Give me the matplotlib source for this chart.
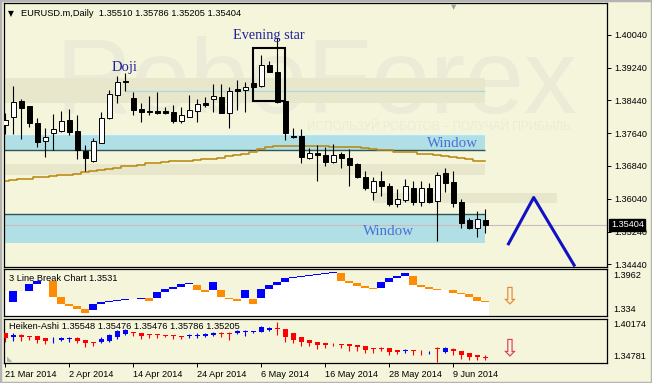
import matplotlib
matplotlib.use('Agg')
import matplotlib.pyplot as plt
from matplotlib.patches import Rectangle
from matplotlib.transforms import blended_transform_factory

plt.rcParams['font.family'] = ['Liberation Sans', 'DejaVu Sans']

# EURUSD.m Daily, 21 Mar 2014 - 13 Jun 2014
opens = [1.3784, 1.3803, 1.3842, 1.3830, 1.3789, 1.3744, 1.3764, 1.3769, 1.3796, 1.3769,
         1.3721, 1.3697, 1.3741, 1.3800, 1.3857, 1.3890, 1.3849, 1.3823, 1.3818, 1.3818,
         1.3819, 1.3815, 1.3794, 1.3804, 1.3819, 1.3838, 1.3848, 1.3851, 1.3814, 1.3872,
         1.3870, 1.3885, 1.3879, 1.3930, 1.3914, 1.3842, 1.3758, 1.3758, 1.3704, 1.3715,
         1.3711, 1.3693, 1.3712, 1.3703, 1.3689, 1.3658, 1.3621, 1.3647, 1.3636, 1.3591,
         1.3601, 1.3629, 1.3597, 1.3629, 1.3599, 1.3666, 1.3645, 1.3597, 1.3552, 1.3532,
         1.35510]
highs = [1.3813, 1.3879, 1.3848, 1.3831, 1.3801, 1.3776, 1.3811, 1.3818, 1.3823, 1.3808,
         1.3735, 1.3751, 1.3816, 1.3869, 1.3903, 1.3911, 1.3865, 1.3838, 1.3854, 1.3864,
         1.3828, 1.3833, 1.3827, 1.3857, 1.3846, 1.3851, 1.3884, 1.3884, 1.3877, 1.3894,
         1.3889, 1.3894, 1.3954, 1.3941, 1.3996, 1.3844, 1.3776, 1.3775, 1.3728, 1.3735,
         1.3729, 1.3737, 1.3719, 1.3725, 1.3690, 1.3672, 1.3656, 1.3672, 1.3642, 1.3628,
         1.3652, 1.3648, 1.3648, 1.3642, 1.3670, 1.3678, 1.3672, 1.3603, 1.3556, 1.3575,
         1.35786]
lows = [1.3762, 1.3762, 1.3750, 1.3779, 1.3730, 1.3706, 1.3723, 1.3767, 1.3759, 1.3701,
        1.3672, 1.3694, 1.3739, 1.3798, 1.3838, 1.3867, 1.3808, 1.3792, 1.3808, 1.3811,
        1.3811, 1.3789, 1.3788, 1.3803, 1.3792, 1.3828, 1.3816, 1.3812, 1.3776, 1.3820,
        1.3815, 1.3874, 1.3876, 1.3913, 1.3837, 1.3747, 1.3751, 1.3690, 1.3700, 1.3648,
        1.3684, 1.3690, 1.3678, 1.3636, 1.3654, 1.3625, 1.3601, 1.3611, 1.3586, 1.3584,
        1.3597, 1.3589, 1.3586, 1.3593, 1.3502, 1.3621, 1.3583, 1.3532, 1.3530, 1.3511,
        1.35205]
closes = [1.3796, 1.3840, 1.3825, 1.3789, 1.3742, 1.3754, 1.3773, 1.3794, 1.3767, 1.3723,
          1.3704, 1.3745, 1.3800, 1.3859, 1.3889, 1.3889, 1.3820, 1.3815, 1.3815, 1.3813,
          1.3813, 1.3794, 1.3807, 1.3820, 1.3834, 1.3833, 1.3854, 1.3814, 1.3867, 1.3867,
          1.3876, 1.3877, 1.3930, 1.3914, 1.3841, 1.3764, 1.3754, 1.3705, 1.3715, 1.3711,
          1.3694, 1.3711, 1.3703, 1.3686, 1.3656, 1.3631, 1.3647, 1.3636, 1.3590, 1.3603,
          1.3635, 1.3597, 1.3629, 1.3597, 1.3662, 1.3643, 1.3594, 1.3545, 1.3532, 1.3554,
          1.35404]
ma = [1.3647, 1.3650, 1.3652, 1.3653, 1.3656, 1.3657, 1.3659, 1.3661, 1.3663, 1.3665,
      1.3668, 1.3672, 1.3674, 1.3676, 1.3680, 1.3683, 1.3685, 1.3687, 1.3690, 1.3692,
      1.3694, 1.3695, 1.3696, 1.3696, 1.3698, 1.3700, 1.3702, 1.3704, 1.3708, 1.3711,
      1.3714, 1.3719, 1.3725, 1.3730, 1.3733, 1.3733, 1.3733, 1.3733, 1.3733, 1.3733,
      1.3733, 1.3731, 1.3731, 1.3730, 1.3729, 1.3728, 1.3726, 1.3724, 1.3722, 1.3719,
      1.3718, 1.3717, 1.3714, 1.3713, 1.3711, 1.3708, 1.3706, 1.3703, 1.3701, 1.3697,
      1.3695]

# 3 Line Break (obere / untere Kante je Balken, u = blau, d = orange)
lb_top = [1.3675, 1.3675, 1.3675, 1.3765, 1.3810, 1.3810, 1.3805, 1.3586, 1.3492, 1.3470,
          1.3425, 1.3501, 1.3519, 1.3537, 1.3551, 1.3560, 1.3569, 1.3582, 1.3582, 1.3662,
          1.3702, 1.3729, 1.3761, 1.3778, 1.3752, 1.3685, 1.3787, 1.3685, 1.3573, 1.3560,
          1.3685, 1.3560, 1.3694, 1.3752, 1.3792, 1.3841, 1.3863, 1.3877, 1.3890, 1.3903,
          1.3917, 1.3921, 1.3917, 1.3810, 1.3774, 1.3738, 1.3716, 1.3787, 1.3841, 1.3877,
          1.3917, 1.3877, 1.3752, 1.3729, 1.3702, 1.3689, 1.3680, 1.3649, 1.3635, 1.3595,
          1.3537]
lb_bot = [1.3675, 1.3528, 1.3675, 1.3675, 1.3765, 1.3810, 1.3586, 1.3492, 1.3470, 1.3434,
          1.3381, 1.3416, 1.3501, 1.3519, 1.3537, 1.3551, 1.3560, 1.3569, 1.3537, 1.3582,
          1.3662, 1.3702, 1.3729, 1.3761, 1.3685, 1.3662, 1.3685, 1.3586, 1.3560, 1.3542,
          1.3573, 1.3492, 1.3573, 1.3694, 1.3752, 1.3792, 1.3841, 1.3863, 1.3877, 1.3890,
          1.3903, 1.3912, 1.3810, 1.3774, 1.3738, 1.3716, 1.3702, 1.3707, 1.3787, 1.3841,
          1.3877, 1.3752, 1.3729, 1.3702, 1.3689, 1.3680, 1.3649, 1.3635, 1.3595, 1.3537,
          1.3524]
lb_dir = ['', 'u', '', 'u', 'u', '', 'd', 'd', 'd', 'd',
          'd', 'u', 'u', 'u', 'u', 'u', 'u', 'u', 'd', 'u',
          'u', 'u', 'u', 'u', 'd', 'd', 'u', 'd', 'd', 'd',
          'u', 'd', 'u', 'u', 'u', 'u', 'u', 'u', 'u', 'u',
          'u', 'u', 'd', 'd', 'd', 'd', 'd', 'u', 'u', 'u',
          'u', 'd', 'd', 'd', 'd', 'd', 'd', 'd', 'd', 'd',
          'd']

# Heiken-Ashi
ha_o = [1.3851, 1.3802, 1.3819, 1.3810, 1.3810, 1.3782, 1.3770, 1.3762, 1.3770, 1.3782,
        1.3762, 1.3741, 1.3737, 1.3754, 1.3794, 1.3835, 1.3863, 1.3851, 1.3835, 1.3835,
        1.3823, 1.3823, 1.3810, 1.3806, 1.3806, 1.3810, 1.3827, 1.3843, 1.3843, 1.3843,
        1.3859, 1.3859, 1.3863, 1.3883, 1.3904, 1.3892, 1.3843, 1.3798, 1.3762, 1.3733,
        1.3721, 1.3729, 1.3713, 1.3713, 1.3701, 1.3689, 1.3660, 1.3660, 1.3660, 1.3640,
        1.3628, 1.3640, 1.3640, 1.3628, 1.3660, 1.3620, 1.3648, 1.3632, 1.3599, 1.3579,
        1.35548]
ha_c = [1.3782, 1.3819, 1.3802, 1.3794, 1.3762, 1.3754, 1.3776, 1.3790, 1.3782, 1.3754,
        1.3721, 1.3721, 1.3778, 1.3827, 1.3875, 1.3883, 1.3843, 1.3810, 1.3819, 1.3827,
        1.3810, 1.3810, 1.3798, 1.3819, 1.3819, 1.3835, 1.3851, 1.3835, 1.3837, 1.3875,
        1.3871, 1.3871, 1.3916, 1.3912, 1.3892, 1.3802, 1.3762, 1.3741, 1.3721, 1.3701,
        1.3697, 1.3725, 1.3701, 1.3689, 1.3672, 1.3640, 1.3648, 1.3648, 1.3620, 1.3616,
        1.3640, 1.3628, 1.3636, 1.3632, 1.3656, 1.3660, 1.3632, 1.3579, 1.3551, 1.3559,
        1.35476]
ha_h = [1.3851, 1.3843, 1.3835, 1.3810, 1.3810, 1.3782, 1.3802, 1.3802, 1.3802, 1.3802,
        1.3762, 1.3741, 1.3794, 1.3835, 1.3883, 1.3892, 1.3863, 1.3851, 1.3835, 1.3835,
        1.3823, 1.3823, 1.3810, 1.3835, 1.3843, 1.3843, 1.3863, 1.3863, 1.3863, 1.3883,
        1.3883, 1.3875, 1.3932, 1.3924, 1.3985, 1.3892, 1.3843, 1.3798, 1.3762, 1.3733,
        1.3721, 1.3729, 1.3713, 1.3713, 1.3701, 1.3689, 1.3660, 1.3672, 1.3660, 1.3640,
        1.3648, 1.3640, 1.3640, 1.3632, 1.3672, 1.3672, 1.3668, 1.3632, 1.3599, 1.3579,
        1.35786]
ha_l = [1.3741, 1.3754, 1.3754, 1.3762, 1.3721, 1.3713, 1.3721, 1.3750, 1.3741, 1.3721,
        1.3672, 1.3689, 1.3721, 1.3741, 1.3778, 1.3819, 1.3810, 1.3770, 1.3786, 1.3786,
        1.3794, 1.3778, 1.3770, 1.3786, 1.3782, 1.3802, 1.3810, 1.3802, 1.3762, 1.3835,
        1.3810, 1.3851, 1.3855, 1.3875, 1.3823, 1.3741, 1.3729, 1.3689, 1.3689, 1.3648,
        1.3664, 1.3689, 1.3660, 1.3632, 1.3632, 1.3607, 1.3607, 1.3632, 1.3579, 1.3591,
        1.3599, 1.3579, 1.3579, 1.3587, 1.3498, 1.3607, 1.3579, 1.3526, 1.3518, 1.3518,
        1.35205]

date_bars = [0, 8, 16, 24, 32, 40, 48, 56]
date_labels = ['21 Mar 2014', '2 Apr 2014', '14 Apr 2014', '24 Apr 2014',
               '6 May 2014', '16 May 2014', '28 May 2014', '9 Jun 2014']
price_ticks = [1.34440, 1.35240, 1.36040, 1.36840, 1.37640, 1.38440, 1.39240, 1.40040]

# Zonen und Markierungen
window_up = (1.3722, 1.3761)
window_dn = (1.3497, 1.3566)
zone_top = (1.3837, 1.3898)
zone_mid = (1.3662, 1.3689)
zone_low = (1.3593, 1.3619)
doji_level = 1.3867
last_price = 1.35404
star_box = (30.9, 35.0, 1.3842, 1.3972)
zig_x = [62.9, 66.05, 71.1]
zig_y = [1.3494, 1.3607, 1.3442]

BG = '#f5f5dc'
ZONE = '#e8e6cb'
CYAN = '#b0e0e6'
W, H = 652, 383
n = len(closes)
xs = list(range(n))
XLIM = (-0.125, 75.175)


def px_box(x0, y0, x1, y1):
    return [x0 / W, 1 - y1 / H, (x1 - x0) / W, (y1 - y0) / H]


fig = plt.figure(figsize=(W / 100, H / 100), dpi=100, facecolor=BG)
ax = fig.add_axes(px_box(4.3, 3, 606.7, 266.7))
ax2 = fig.add_axes(px_box(4.3, 269.3, 606.7, 315.7))
ax3 = fig.add_axes(px_box(4.3, 319, 606.7, 363.3))

for a in (ax, ax2, ax3):
    a.set_facecolor(BG)
    a.set_xlim(*XLIM)
    for s in a.spines.values():
        s.set_color('black')
        s.set_linewidth(0.9)

# ---- Hauptchart ----
ax.set_ylim(1.34382, 1.40813)
ax.text(0.084, 0.583, 'RoboForex', transform=ax.transAxes, fontsize=76,
        color='#ecebd7', va='baseline', zorder=0.5)
ax.text(0.5025, 0.528, 'ИСПОЛЬЗУЙ РОБОТОВ – ПОЛУЧАЙ ПРИБЫЛЬ', transform=ax.transAxes,
        fontsize=8.5, color='#ecebd7', va='center', zorder=0.5)

ax.fill_between([-1, 60], *zone_top, color=ZONE, lw=0, zorder=1)
ax.fill_between([-1, 60], *zone_mid, color=ZONE, lw=0, zorder=1)
ax.fill_between([46, 69], *zone_low, color=ZONE, lw=0, zorder=1)
ax.fill_between([-1, 60], *window_up, color=CYAN, lw=0, zorder=1.5)
ax.fill_between([-1, 60], *window_dn, color=CYAN, lw=0, zorder=1.5)
ax.hlines(window_up[1], -1, 60, color='#e4f8fa', lw=1, zorder=2)
ax.hlines(window_up[0], -1, 60, color='#2f5557', lw=1, zorder=2)
ax.hlines(window_dn[1], -1, 60, color='#2f5557', lw=1, zorder=2)
ax.hlines(doji_level, 15, 60, color='#a6dbe6', lw=0.9, zorder=2)
ax.axhline(last_price, color='#cdbaba', lw=0.8, zorder=2.2)

ax.plot(xs, ma, drawstyle='steps-mid', color='#b8860b', lw=1.1, zorder=2.5)

ax.vlines(xs, lows, highs, color='black', lw=0.8, zorder=3)
body_lo = [min(o, c) for o, c in zip(opens, closes)]
body_h = [max(abs(c - o), 0.00004) for o, c in zip(opens, closes)]
body_col = ['white' if c > o else 'black' for o, c in zip(opens, closes)]
ax.bar(xs, body_h, 0.56, body_lo, color=body_col, edgecolor='black', lw=0.7, zorder=4)

x0, x1, lo, hi = star_box
ax.add_patch(Rectangle((x0, lo), x1 - x0, hi - lo, fill=False, ec='black', lw=1.5, zorder=5))
ax.plot(zig_x, zig_y, color='#1212c4', lw=2.2, zorder=5)

serif = 'Liberation Serif'
ax.text(13.3, 1.3923, 'Doji', family=serif, fontsize=10.5, color='#20209a', va='center', zorder=6)
ax.text(28.45, 1.4002, 'Evening star', family=serif, fontsize=10.3, color='#20209a', va='center', zorder=6)
ax.text(52.7, 1.3739, 'Window', family=serif, fontsize=10.8, color='#4a6fd6', va='center', zorder=6)
ax.text(44.7, 1.3523, 'Window', family=serif, fontsize=10.8, color='#4a6fd6', va='center', zorder=6)

ax.text(0.011, 0.962, '▼', family='DejaVu Sans', fontsize=5.5, transform=ax.transAxes, ha='center', va='center')
ax.text(0.0277, 0.962, 'EURUSD.m,Daily  1.35510 1.35786 1.35205 1.35404', fontsize=6.7,
        transform=ax.transAxes, va='center', zorder=6)
ax.text(0.7457, 0.997, '▼', family='DejaVu Sans', fontsize=5, color='#a0a0a0',
        transform=ax.transAxes, ha='center', va='top')

ax.set_xticks([])
ax.yaxis.tick_right()
ax.set_yticks(price_ticks)
ax.set_yticklabels(['%.5f' % p for p in price_ticks])
ax.tick_params(axis='y', length=3, width=0.7, pad=2.2, labelsize=6.6)
tr = blended_transform_factory(ax.transAxes, ax.transData)
ax.text(1.007, last_price, '%.5f' % last_price, transform=tr, fontsize=6.6, color='white',
        va='center', ha='left', zorder=10, clip_on=False,
        bbox=dict(boxstyle='square,pad=0.18', fc='black', ec='black'))

# ---- 3 Line Break ----
ax2.set_ylim(1.334, 1.3962)
ax2.bar(xs, [b - 1.30 for b in lb_bot], 1.0, 1.30, color='white', lw=0, zorder=1)
lb_col = {'u': '#0000ff', 'd': '#ff8c00'}
for i in xs:
    if lb_dir[i]:
        ax2.bar(i, lb_top[i] - lb_bot[i], 1.0, lb_bot[i], color=lb_col[lb_dir[i]], lw=0, zorder=2)
ax2.text(0.0083, 0.806, '3 Line Break Chart 1.3531', transform=ax2.transAxes, fontsize=6.7,
         va='center', zorder=6)
ax2.text(63, 0.425, '⇩', transform=blended_transform_factory(ax2.transData, ax2.transAxes),
         family='DejaVu Sans', fontsize=17, color='#e8872a', ha='center', va='center')
ax2.set_xticks([])
ax2.set_yticks([])
ax2.text(1.011, 0.856, '1.3962', transform=ax2.transAxes, fontsize=6.6, va='center')
ax2.text(1.011, 0.123, '1.334', transform=ax2.transAxes, fontsize=6.6, va='center')

# ---- Heiken-Ashi ----
ax3.set_ylim(1.34781, 1.40174)
ha_col = ['#0000ff' if c >= o else '#ff0000' for o, c in zip(ha_o, ha_c)]
ax3.vlines(xs, ha_l, ha_h, colors=ha_col, lw=0.8, zorder=2)
ha_lo = [min(o, c) for o, c in zip(ha_o, ha_c)]
ha_hh = [max(abs(c - o), 0.0002) for o, c in zip(ha_o, ha_c)]
ax3.bar(xs, ha_hh, 0.56, ha_lo, color=ha_col, lw=0, zorder=3)
ax3.text(0.0083, 0.826, 'Heiken-Ashi 1.35548 1.35476 1.35476 1.35786 1.35205',
         transform=ax3.transAxes, fontsize=6.7, va='center', zorder=6)
ax3.text(63, 0.334, '⇩', transform=blended_transform_factory(ax3.transData, ax3.transAxes),
         family='DejaVu Sans', fontsize=17, color='#e23a5c', ha='center', va='center')
ax3.text(0.004, 0.03, '◣', family='DejaVu Sans', fontsize=5, color='#b0b0b0',
         transform=ax3.transAxes, va='bottom')
ax3.set_yticks([])
ax3.text(1.011, 0.865, '1.40174', transform=ax3.transAxes, fontsize=6.6, va='center')
ax3.text(1.011, 0.149, '1.34781', transform=ax3.transAxes, fontsize=6.6, va='center')
ax3.set_xticks(date_bars)
ax3.set_xticklabels(date_labels, ha='left')
ax3.tick_params(axis='x', length=3, width=0.7, pad=1.5, labelsize=6.6)

# Fensterrahmen
fig.patches.append(Rectangle((0, 0), 1, 1, transform=fig.transFigure, fill=False,
                             ec='#b4b4b4', lw=2.5))

fig.savefig('out.png', dpi=100, facecolor=BG)
